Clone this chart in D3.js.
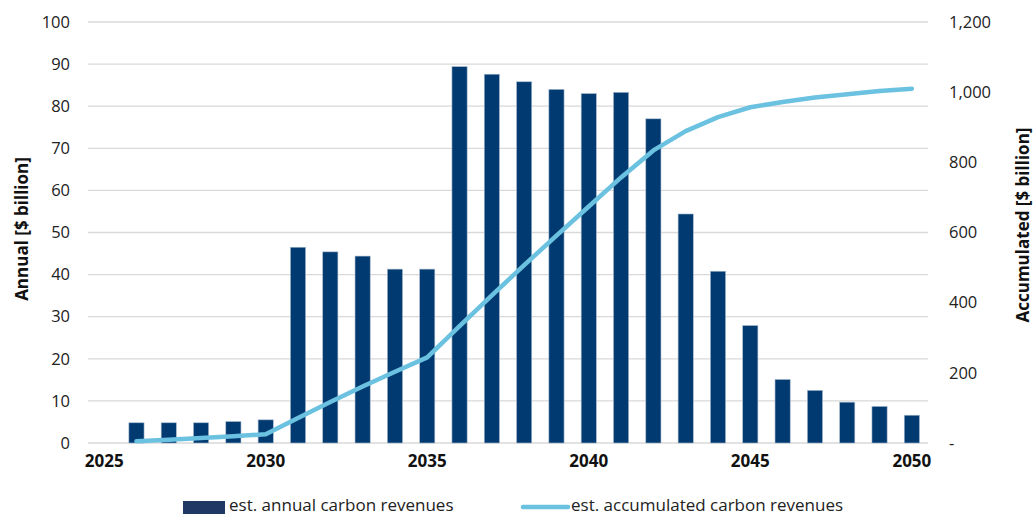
<!DOCTYPE html>
<html><head><meta charset="utf-8">
<script src="https://cdn.jsdelivr.net/npm/d3@7"></script>
<style>body{margin:0;background:#fff}svg{display:block}text{font-family:"Open Sans",Lato,sans-serif}</style>
</head><body><svg id="c" width="1035" height="517"></svg>
<script>
const years = d3.range(2025, 2051).map(String);
const annualYears = ["2026","2027","2028","2029","2030","2031","2032","2033","2034","2035","2036","2037","2038","2039","2040","2041","2042","2043","2044","2045","2046","2047","2048","2049","2050"];
const annual = [4.8,4.8,4.8,5.1,5.5,46.5,45.4,44.4,41.3,41.3,89.4,87.6,85.8,84.0,83.0,83.3,77.0,54.4,40.8,27.9,15.1,12.5,9.7,8.7,6.6];
const accumulated = [4.8,9.6,14.4,19.5,25,71.5,117,161,203,244,333,421,507,591,674,757,834,889,929,957,972,985,994,1003,1010];
const leftTicks = [0,10,20,30,40,50,60,70,80,90,100];
const rightTicks = [0,200,400,600,800,1000,1200];
const xTickLabels = ["2025","2030","2035","2040","2045","2050"];

const svg = d3.select("#c");
const L = 88, R = 928, T = 22, B = 443;
const x = d3.scaleBand().domain(years).range([L, R]).paddingInner(0.53).paddingOuter(0.265);
const yL = d3.scaleLinear().domain([0,100]).range([B, T]);
const yR = d3.scaleLinear().domain([0,1200]).range([B, T]);
const cx = d => x(d) + x.bandwidth()/2;

// gridlines
svg.append("g").selectAll("line").data(leftTicks).join("line")
  .attr("x1", L).attr("x2", R).attr("y1", d => yL(d)).attr("y2", d => yL(d))
  .attr("stroke", "#d9d9d9").attr("stroke-width", 1.3);

// left axis
const gl = svg.append("g").attr("transform", `translate(${L},0)`)
  .call(d3.axisLeft(yL).tickValues(leftTicks).tickSize(0).tickPadding(18));
gl.select(".domain").remove();
gl.selectAll("text").attr("font-size", 16.5).attr("fill", "#222");

// right axis
const gr = svg.append("g").attr("transform", `translate(${R},0)`)
  .call(d3.axisRight(yR).tickValues(rightTicks).tickSize(0).tickPadding(21)
    .tickFormat(d => d === 0 ? "-" : d3.format(",")(d)));
gr.select(".domain").remove();
gr.selectAll("text").attr("font-size", 16.5).attr("fill", "#222");

// x axis
const gx = svg.append("g").attr("transform", `translate(0,${B})`)
  .call(d3.axisBottom(x).tickValues(xTickLabels).tickSize(0).tickPadding(12));
gx.select(".domain").remove();
gx.selectAll("text").attr("font-size", 17).attr("font-weight", "bold").attr("fill", "#111");

// bars
svg.append("g").selectAll("rect").data(annualYears).join("rect")
  .attr("x", d => x(d)).attr("width", x.bandwidth())
  .attr("y", (d,i) => yL(annual[i])).attr("height", (d,i) => B - yL(annual[i]))
  .attr("fill", "#003a70").attr("stroke", "#a9bcd0").attr("stroke-width", 0.6);

// line
const line = d3.line().x(d => cx(d[0])).y(d => yR(d[1]));
svg.append("path").datum(annualYears.map((y,i) => [y, accumulated[i]]))
  .attr("d", line).attr("fill", "none").attr("stroke", "#6bc1e0")
  .attr("stroke-width", 4.5).attr("stroke-linecap", "round").attr("stroke-linejoin", "round");

// axis titles
svg.append("text").attr("transform", "translate(28,229) rotate(-90)")
  .attr("text-anchor", "middle").attr("font-size", 17).attr("font-weight", "bold").attr("fill", "#111")
  .text("Annual [$ billion]");
svg.append("text").attr("transform", "translate(1029,225) rotate(-90)")
  .attr("text-anchor", "middle").attr("font-size", 17).attr("font-weight", "bold").attr("fill", "#111")
  .text("Accumulated [$ billion]");

// legend
const lg = svg.append("g");
lg.append("rect").attr("x", 183).attr("y", 501).attr("width", 42).attr("height", 13).attr("fill", "#1f3864");
lg.append("text").attr("x", 229).attr("y", 511).attr("font-size", 17).attr("fill", "#222").text("est. annual carbon revenues");
lg.append("line").attr("x1", 523).attr("x2", 568).attr("y1", 507).attr("y2", 507)
  .attr("stroke", "#6bc1e0").attr("stroke-width", 4.5).attr("stroke-linecap", "round");
lg.append("text").attr("x", 571).attr("y", 511).attr("font-size", 17).attr("fill", "#222").text("est. accumulated carbon revenues");
</script></body></html>
